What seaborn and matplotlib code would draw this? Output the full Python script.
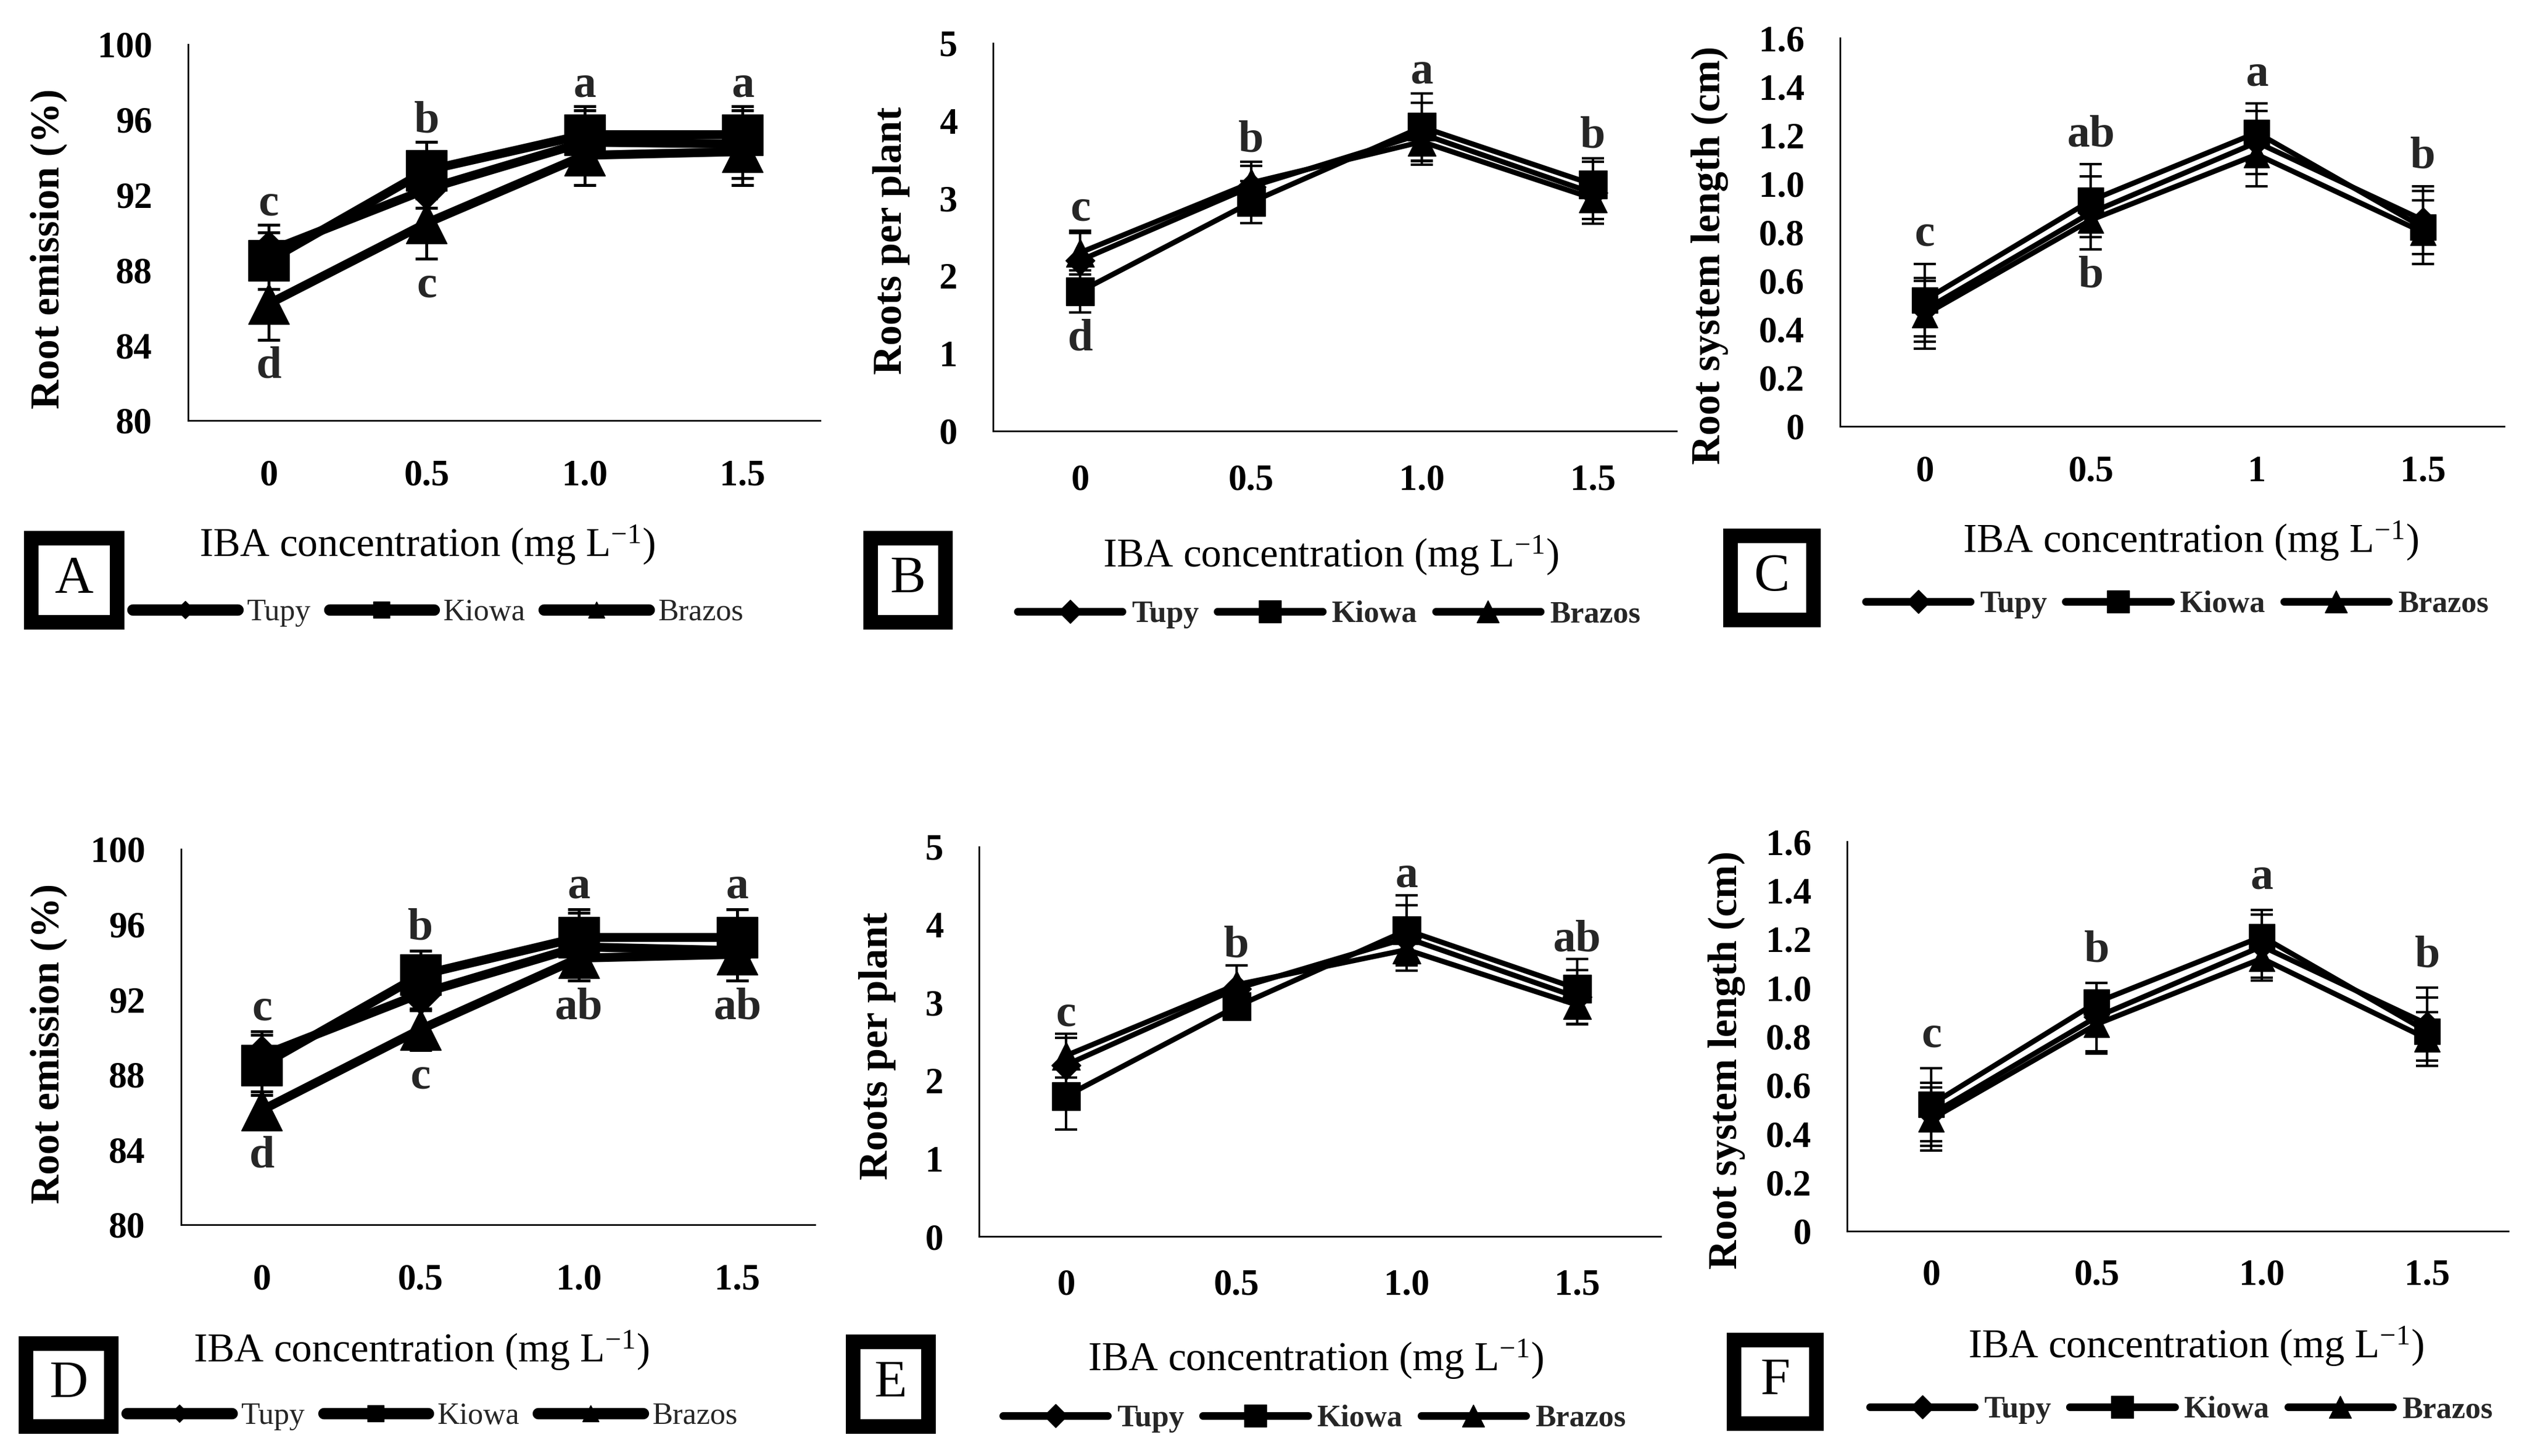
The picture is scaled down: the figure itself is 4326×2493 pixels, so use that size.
import numpy as np
import pandas as pd
import seaborn as sns
import matplotlib.pyplot as plt
from matplotlib.lines import Line2D
from matplotlib.patches import Rectangle

# IBA doses and cultivars (series order: Tupy, Kiowa, Brazos)
conc = [0, 0.5, 1.0, 1.5]
cultivars = ['Tupy', 'Kiowa', 'Brazos']
marker_map = {'Tupy': 'D', 'Kiowa': 's', 'Brazos': '^'}

# values, one row per cultivar
emis_A = [[89.0, 92.3, 94.8, 94.7], [88.5, 93.3, 95.2, 95.2], [86.2, 90.5, 94.1, 94.3]]
emis_A_sd = [[1.4, 1.0, 1.7, 1.8], [1.5, 1.5, 1.5, 1.5], [1.9, 1.9, 1.6, 1.8]]
roots_B = [[2.2, 3.15, 3.83, 3.07], [1.8, 2.95, 3.92, 3.18], [2.3, 3.2, 3.73, 3.0]]
roots_B_sd = [[0.35, 0.27, 0.40, 0.40], [0.27, 0.27, 0.43, 0.34], [0.28, 0.27, 0.25, 0.27]]
length_C = [[0.48, 0.88, 1.17, 0.85], [0.52, 0.93, 1.21, 0.82], [0.46, 0.85, 1.12, 0.80]]
length_C_sd = [[0.13, 0.15, 0.13, 0.14], [0.15, 0.15, 0.12, 0.15], [0.14, 0.12, 0.13, 0.13]]
emis_D = [[89.0, 92.3, 94.8, 94.6], [88.5, 93.3, 95.3, 95.3], [86.1, 90.4, 94.2, 94.4]]
emis_D_sd = [[1.3, 0.9, 1.8, 1.6], [1.6, 1.3, 1.5, 1.5], [1.0, 1.1, 1.2, 1.4]]
roots_E = [[2.2, 3.18, 3.83, 3.07], [1.8, 2.95, 3.93, 3.18], [2.32, 3.23, 3.68, 2.97]]
roots_E_sd = [[0.35, 0.30, 0.42, 0.35], [0.43, 0.15, 0.45, 0.38], [0.28, 0.25, 0.15, 0.24]]
length_F = [[0.48, 0.88, 1.17, 0.85], [0.52, 0.94, 1.21, 0.82], [0.46, 0.85, 1.12, 0.79]]
length_F_sd = [[0.13, 0.14, 0.13, 0.15], [0.15, 0.08, 0.11, 0.14], [0.13, 0.12, 0.09, 0.11]]

# significance letters above / below each dose
let_A_top, let_A_bot = ['c', 'b', 'a', 'a'], ['d', 'c', '', '']
let_B_top, let_B_bot = ['c', 'b', 'a', 'b'], ['d', '', '', '']
let_C_top, let_C_bot = ['c', 'ab', 'a', 'b'], ['', 'b', '', '']
let_D_top, let_D_bot = ['c', 'b', 'a', 'a'], ['d', 'c', 'ab', 'ab']
let_E_top, let_E_bot = ['c', 'b', 'a', 'ab'], ['', '', '', '']
let_F_top, let_F_bot = ['c', 'b', 'a', 'b'], ['', '', '', '']

# axis ticks and labels
ticks_emis = [80, 84, 88, 92, 96, 100]
ticks_roots = [0, 1, 2, 3, 4, 5]
ticks_len = [0, 0.2, 0.4, 0.6, 0.8, 1.0, 1.2, 1.4, 1.6]
ticklab_len = ['0', '0.2', '0.4', '0.6', '0.8', '1.0', '1.2', '1.4', '1.6']
xlab_std = ['0', '0.5', '1.0', '1.5']
xlab_C = ['0', '0.5', '1', '1.5']

W, H = 4326, 2493
sns.set_theme(style='white')
plt.rcParams['font.family'] = ['Liberation Serif', 'DejaVu Serif']
plt.rcParams['mathtext.default'] = 'regular'

fig = plt.figure(figsize=(W / 100, H / 100), dpi=100)

panels = [
    dict(key='A', m=emis_A, s=emis_A_sd, top=let_A_top, bot=let_A_bot,
         yt=ticks_emis, ytl=[str(t) for t in ticks_emis], ylim=(80, 100), xtl=xlab_std,
         ylabel='Root emission (%)', rect=(322, 76, 1404, 720),
         ylab=(83, 426), xlab=(731, 933), leg=(750, 1049), box=(41, 909, 212, 1077),
         lw=11, ms=50, ew=3.6, gap=12, xpad=32, leg_lw=14, leg_ms=20, leg_w='normal'),
    dict(key='B', m=roots_B, s=roots_B_sd, top=let_B_top, bot=let_B_bot,
         yt=ticks_roots, ytl=[str(t) for t in ticks_roots], ylim=(0, 5), xtl=xlab_std,
         ylabel='Roots per plant', rect=(1700, 74, 2870, 738),
         ylab=(1526, 412), xlab=(2278, 951), leg=(2275, 1052), box=(1478, 909, 1630, 1077),
         lw=6.5, ms=35, ew=3, gap=13, xpad=25, leg_lw=9.5, leg_ms=27, leg_w='bold'),
    dict(key='C', m=length_C, s=length_C_sd, top=let_C_top, bot=let_C_bot,
         yt=ticks_len, ytl=ticklab_len, ylim=(0, 1.6), xtl=xlab_C,
         ylabel='Root system length (cm)', rect=(3150, 65, 4287, 730),
         ylab=(2927, 437), xlab=(3750, 926), leg=(3727, 1035), box=(2950, 905, 3116, 1073),
         lw=6.5, ms=31, ew=3, gap=22, xpad=20, leg_lw=9.5, leg_ms=27, leg_w='bold'),
    dict(key='D', m=emis_D, s=emis_D_sd, top=let_D_top, bot=let_D_bot,
         yt=ticks_emis, ytl=[str(t) for t in ticks_emis], ylim=(80, 100), xtl=xlab_std,
         ylabel='Root emission (%)', rect=(310, 1454, 1395, 2097),
         ylab=(83, 1787), xlab=(721, 2312), leg=(740, 2425), box=(32, 2288, 202, 2454),
         lw=11, ms=50, ew=3.6, gap=14, xpad=32, leg_lw=14, leg_ms=20, leg_w='normal'),
    dict(key='E', m=roots_E, s=roots_E_sd, top=let_E_top, bot=let_E_bot,
         yt=ticks_roots, ytl=[str(t) for t in ticks_roots], ylim=(0, 5), xtl=xlab_std,
         ylabel='Roots per plant', rect=(1676, 1450, 2843, 2117),
         ylab=(1502, 1791), xlab=(2252, 2327), leg=(2250, 2429), box=(1448, 2285, 1601, 2454),
         lw=6.5, ms=35, ew=3, gap=10, xpad=24, leg_lw=9.5, leg_ms=27, leg_w='bold'),
    dict(key='F', m=length_F, s=length_F_sd, top=let_F_top, bot=let_F_bot,
         yt=ticks_len, ytl=ticklab_len, ylim=(0, 1.6), xtl=xlab_std,
         ylabel='Root system length (cm)', rect=(3162, 1441, 4294, 2108),
         ylab=(2956, 1815), xlab=(3759, 2305), leg=(3734, 2414), box=(2956, 2282, 3121, 2449),
         lw=6.5, ms=31, ew=3, gap=26, xpad=18, leg_lw=9.5, leg_ms=27, leg_w='bold'),
]

for p in panels:
    l, t, r, b = p['rect']
    ax = fig.add_axes([l / W, 1 - b / H, (r - l) / W, (b - t) / H])

    def to_ax(px, py):
        return (px - l) / (r - l), (b - py) / (b - t)

    df = pd.DataFrame({
        'conc': np.tile(conc, len(cultivars)),
        'cultivar': np.repeat(cultivars, len(conc)),
        'value': np.ravel(p['m']),
        'sd': np.ravel(p['s']),
    })

    # error bars under the lines
    for name in cultivars:
        sub = df[df['cultivar'] == name]
        ax.errorbar(sub['conc'], sub['value'], yerr=sub['sd'], fmt='none',
                    ecolor='black', elinewidth=p['ew'], capsize=14,
                    capthick=p['ew'], zorder=2)

    sns.lineplot(data=df, x='conc', y='value', hue='cultivar', style='cultivar',
                 hue_order=cultivars, style_order=cultivars,
                 palette=['black'] * 3, markers=marker_map, dashes=False,
                 markersize=p['ms'], linewidth=p['lw'], markeredgecolor='black',
                 markeredgewidth=1, errorbar=None, legend=False, ax=ax, zorder=3)
    for ln in ax.lines:
        if ln.get_marker() == 'D':
            ln.set_markersize(p['ms'] * 0.72)

    # significance letters
    hi = (df['value'] + df['sd']).groupby(df['conc']).max()
    lo = (df['value'] - df['sd']).groupby(df['conc']).min()
    for x, lab_t, lab_b in zip(conc, p['top'], p['bot']):
        if lab_t:
            ax.annotate(lab_t, (x, hi[x]), xytext=(0, p['gap']), textcoords='offset points',
                        ha='center', va='baseline', fontsize=56, fontweight='bold',
                        annotation_clip=False)
        if lab_b:
            ax.annotate(lab_b, (x, lo[x]), xytext=(0, -8), textcoords='offset points',
                        ha='center', va='top', fontsize=56, fontweight='bold',
                        annotation_clip=False)

    ax.set_xlim(-0.255, 1.745)
    ax.set_ylim(*p['ylim'])
    ax.set_xticks(conc)
    ax.set_xticklabels(p['xtl'])
    ax.set_yticks(p['yt'])
    ax.set_yticklabels(p['ytl'])
    for s in ['top', 'right']:
        ax.spines[s].set_visible(False)
    for s in ['left', 'bottom']:
        ax.spines[s].set_color('black')
        ax.spines[s].set_linewidth(2)
    ax.tick_params(axis='y', direction='out', length=14, width=2, color='black',
                   pad=30, labelsize=45, labelcolor='black')
    ax.tick_params(axis='x', direction='out', length=16, width=2, color='black',
                   pad=p['xpad'], labelsize=45, labelcolor='black')
    for lab in ax.get_xticklabels() + ax.get_yticklabels():
        lab.set_fontweight('bold')

    ax.set_ylabel(p['ylabel'], fontsize=50, fontweight='bold', color='black')
    ax.yaxis.label.set_va('center')
    ax.yaxis.set_label_coords(*to_ax(*p['ylab']))
    ax.set_xlabel('IBA concentration (mg L$^{-1}$)', fontsize=50, color='black')
    ax.xaxis.label.set_va('center')
    ax.xaxis.set_label_coords(*to_ax(*p['xlab']))

    handles = [Line2D([], [], color='black', lw=p['leg_lw'], solid_capstyle='round',
                      marker=marker_map[c], mec='black',
                      ms=p['leg_ms'] * (0.75 if c == 'Tupy' else 1.0))
               for c in cultivars]
    ax.legend(handles, cultivars, loc='center', bbox_to_anchor=to_ax(*p['leg']),
              bbox_transform=ax.transAxes, ncol=3, frameon=False,
              prop={'size': 38, 'weight': p['leg_w']}, handlelength=3.4,
              handletextpad=0.3, columnspacing=0.6, borderpad=0, borderaxespad=0)

    # boxed panel letter
    bl, bt, br, bb = p['box']
    inset = 12
    fig.add_artist(Rectangle(((bl + inset) / W, 1 - (bb - inset) / H),
                             (br - bl - 2 * inset) / W, (bb - bt - 2 * inset) / H,
                             transform=fig.transFigure, fill=False,
                             edgecolor='black', linewidth=18))
    fig.text((bl + br) / 2 / W, 1 - (bt + bb) / 2 / H, p['key'], ha='center',
             va='center', fontsize=66, color='black')

fig.savefig('out.png', dpi=100)
